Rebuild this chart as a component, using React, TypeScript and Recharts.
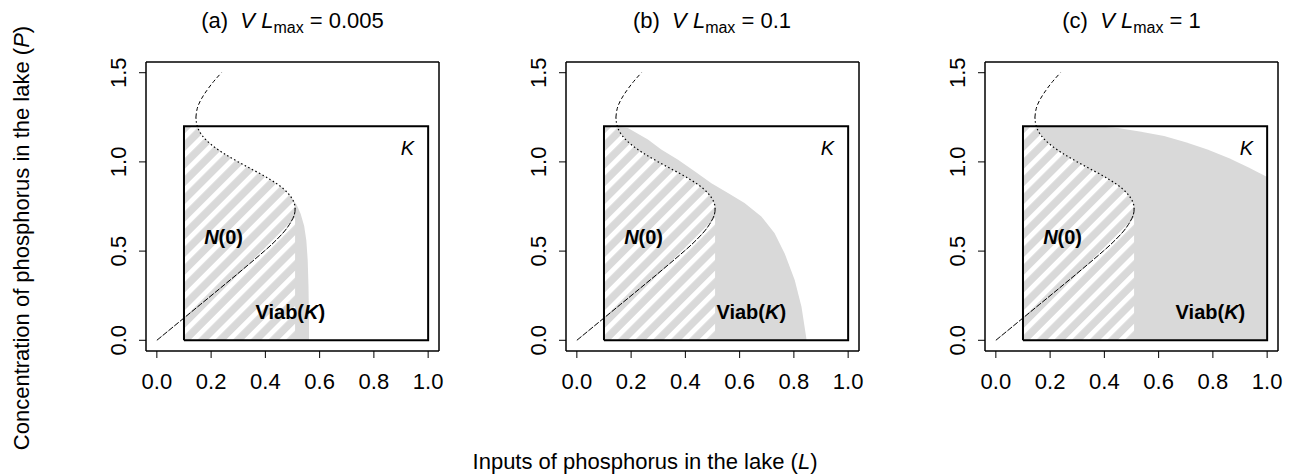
import React from 'react';
import {
  ComposedChart, Line, Area, XAxis, YAxis, ReferenceDot
} from 'recharts';

const FONT = '"Liberation Sans", Arial, Helvetica, sans-serif';
const GREY = '#d9d9d9';

const X_TICKS = [0, 0.2, 0.4, 0.6, 0.8, 1.0];
const Y_TICKS = [0, 0.5, 1.0, 1.5];

// equilibrium curve L(P), split into its three branches
const stableL = [0, 0.08, 0.16, 0.24, 0.319, 0.396, 0.432, 0.464, 0.489, 0.506, 0.5095];
const stableP = [0, 0.1, 0.2, 0.3, 0.4, 0.5, 0.55, 0.6, 0.65, 0.7, 0.735];
const unstableL = [0.5095, 0.508, 0.496, 0.466, 0.419, 0.361, 0.3, 0.244, 0.198, 0.166, 0.149, 0.144];
const unstableP = [0.735, 0.76, 0.8, 0.85, 0.9, 0.95, 1.0, 1.05, 1.1, 1.15, 1.2, 1.25];
const upperL = [0.144, 0.149, 0.163, 0.184, 0.209, 0.238];
const upperP = [1.25, 1.3, 1.35, 1.4, 1.45, 1.5];

// constraint set K
const kL = [0.1, 0.1, 1.0, 1.0, 0.1];
const kP = [0, 1.2, 1.2, 0, 0];

// N(0): upper edge of the hatched set
const n0L = [0.1, 0.149, 0.166, 0.198, 0.244, 0.3, 0.361, 0.419, 0.466, 0.496, 0.508, 0.5095, 0.5095];
const n0P = [1.2, 1.2, 1.15, 1.1, 1.05, 1.0, 0.95, 0.9, 0.85, 0.8, 0.76, 0.735, 0];

// Viab(K) upper edge for each VLmax
const viabAL = [0.1, 0.149, 0.166, 0.198, 0.244, 0.3, 0.361, 0.419, 0.466, 0.496, 0.515, 0.53, 0.543, 0.551, 0.556, 0.559, 0.561, 0.561];
const viabAP = [1.2, 1.2, 1.15, 1.1, 1.05, 1.0, 0.95, 0.9, 0.85, 0.8, 0.76, 0.71, 0.64, 0.56, 0.45, 0.3, 0.1, 0];
const viabBL = [0.1, 0.188, 0.262, 0.311, 0.373, 0.434, 0.496, 0.557, 0.618, 0.68, 0.729, 0.766, 0.803, 0.828, 0.846, 0.846];
const viabBP = [1.2, 1.19, 1.125, 1.069, 1.012, 0.947, 0.881, 0.825, 0.769, 0.694, 0.6, 0.487, 0.3375, 0.1875, 0.01, 0];
const viabCL = [0.1, 0.37, 0.45, 0.53, 0.62, 0.7, 0.78, 0.86, 0.93, 1.0, 1.0];
const viabCP = [1.2, 1.2, 1.19, 1.17, 1.145, 1.11, 1.07, 1.02, 0.97, 0.915, 0];

const panelTags = ['(a)', '(b)', '(c)'];
const panelVL = ['0.005', '0.1', '1'];
const viabLabelL = [0.492, 0.643, 0.791];

const toPoints = (xs: number[], ys: number[]) => xs.map((x, i) => ({ x, y: ys[i] }));
const toBand = (xs: number[], ys: number[]) => xs.map((x, i) => ({ x, band: [0, ys[i]] }));

const viabs = [toBand(viabAL, viabAP), toBand(viabBL, viabBP), toBand(viabCL, viabCP)];
const n0 = toBand(n0L, n0P);
const stable = toPoints(stableL, stableP);
const unstable = toPoints(unstableL, unstableP);
const upper = toPoints(upperL, upperP);
const kBox = toPoints(kL, kP);

const YTick = (props: any) => {
  const { x, y, payload } = props;
  return (
    <text transform={`translate(${x},${y}) rotate(-90)`} textAnchor="middle"
      fontSize={22} fontFamily={FONT} fill="#000">
      {Number(payload.value).toFixed(1)}
    </text>
  );
};

const textProps = {
  textAnchor: 'middle' as const,
  dominantBaseline: 'central' as const,
  fontFamily: FONT,
  fontSize: 20,
  fill: '#000',
};

const Panel = ({ idx }: { idx: number }) => {
  const hatchId = `hatch-${idx}`;
  return (
    <div style={{ position: 'absolute', left: idx * 419.5, top: 0 }}>
      <ComposedChart width={452} height={420} margin={{ top: 61, right: 12, bottom: 19, left: 0 }}>
        <defs>
          <pattern id={hatchId} width={12.5} height={12.5} patternUnits="userSpaceOnUse" patternTransform="rotate(45)">
            <rect width={12.5} height={12.5} fill={GREY} />
            <rect width={5} height={12.5} fill="#fff" />
          </pattern>
        </defs>
        <XAxis dataKey="x" type="number" domain={[-0.04, 1.04]} ticks={X_TICKS} allowDataOverflow
          tickFormatter={(v: number) => v.toFixed(1)} height={50} tickSize={7} tickMargin={15}
          axisLine={{ stroke: '#000', strokeWidth: 1.5 }} tickLine={{ stroke: '#000' }}
          tick={{ fill: '#000', fontSize: 22, fontFamily: FONT }} interval={0} />
        <XAxis xAxisId="top" orientation="top" type="number" domain={[-0.04, 1.04]} height={1}
          tick={false} tickLine={false} axisLine={{ stroke: '#000', strokeWidth: 1.5 }} />
        <YAxis type="number" domain={[-0.06, 1.56]} ticks={Y_TICKS} allowDataOverflow width={146}
          tickSize={7} tickMargin={13} tick={YTick} interval={0}
          axisLine={{ stroke: '#000', strokeWidth: 1.5 }} tickLine={{ stroke: '#000' }} />
        <YAxis yAxisId="right" orientation="right" type="number" domain={[-0.06, 1.56]} width={1}
          tick={false} tickLine={false} axisLine={{ stroke: '#000', strokeWidth: 1.5 }} />

        <Area data={viabs[idx]} dataKey="band" type="linear" stroke="none" fill={GREY} fillOpacity={1}
          isAnimationActive={false} dot={false} activeDot={false} />
        <Area data={n0} dataKey="band" type="linear" stroke="none" fill={`url(#${hatchId})`} fillOpacity={1}
          isAnimationActive={false} dot={false} activeDot={false} />

        <Line data={kBox} dataKey="y" type="linear" stroke="#000" strokeWidth={2}
          dot={false} activeDot={false} isAnimationActive={false} />
        <Line data={stable} dataKey="y" type="natural" stroke="#000" strokeWidth={1}
          strokeDasharray="6 1.5" dot={false} activeDot={false} isAnimationActive={false} />
        <Line data={unstable} dataKey="y" type="natural" stroke="#000" strokeWidth={1.2}
          strokeDasharray="1.5 2.5" dot={false} activeDot={false} isAnimationActive={false} />
        <Line data={upper} dataKey="y" type="natural" stroke="#000" strokeWidth={1}
          strokeDasharray="4 2.5" dot={false} activeDot={false} isAnimationActive={false} />

        <ReferenceDot x={0.924} y={1.078} r={1} fill="none" stroke="none"
          shape={(p: any) => <text x={p.cx} y={p.cy} {...textProps} fontStyle="italic">K</text>} />
        <ReferenceDot x={0.246} y={0.581} r={1} fill="none" stroke="none"
          shape={(p: any) => (
            <text x={p.cx} y={p.cy} {...textProps} fontWeight="bold">
              <tspan fontStyle="italic">N</tspan>(0)
            </text>
          )} />
        <ReferenceDot x={viabLabelL[idx]} y={0.159} r={1} fill="none" stroke="none"
          shape={(p: any) => (
            <text x={p.cx} y={p.cy} {...textProps} fontWeight="bold">
              Viab(<tspan fontStyle="italic">K</tspan>)
            </text>
          )} />
      </ComposedChart>
      <div style={{
        position: 'absolute', left: 292.5 - 200, width: 400, top: 8, textAlign: 'center',
        fontFamily: FONT, fontSize: 22, lineHeight: '25px', whiteSpace: 'nowrap', color: '#000',
      }}>
        {panelTags[idx]}{'\u00a0\u00a0'}<i>V</i> <i>L</i>
        <span style={{ fontSize: 16, position: 'relative', top: 5 }}>max</span> = {panelVL[idx]}
      </div>
    </div>
  );
};

export default function App() {
  return (
    <div style={{
      position: 'absolute', left: 0, top: 0, width: 1291, height: 476,
      overflow: 'hidden', background: '#fff', fontFamily: FONT,
    }}>
      {[0, 1, 2].map(i => <Panel key={i} idx={i} />)}
      <div style={{
        position: 'absolute', left: 22, top: 238, transform: 'translate(-50%, -50%) rotate(-90deg)',
        whiteSpace: 'nowrap', fontSize: 22, lineHeight: '26px', color: '#000',
      }}>
        Concentration of phosphorus in the lake (<i>P</i>)
      </div>
      <div style={{
        position: 'absolute', left: 645, top: 462, transform: 'translate(-50%, -50%)',
        whiteSpace: 'nowrap', fontSize: 22, lineHeight: '26px', color: '#000',
      }}>
        Inputs of phosphorus in the lake (<i>L</i>)
      </div>
    </div>
  );
}
